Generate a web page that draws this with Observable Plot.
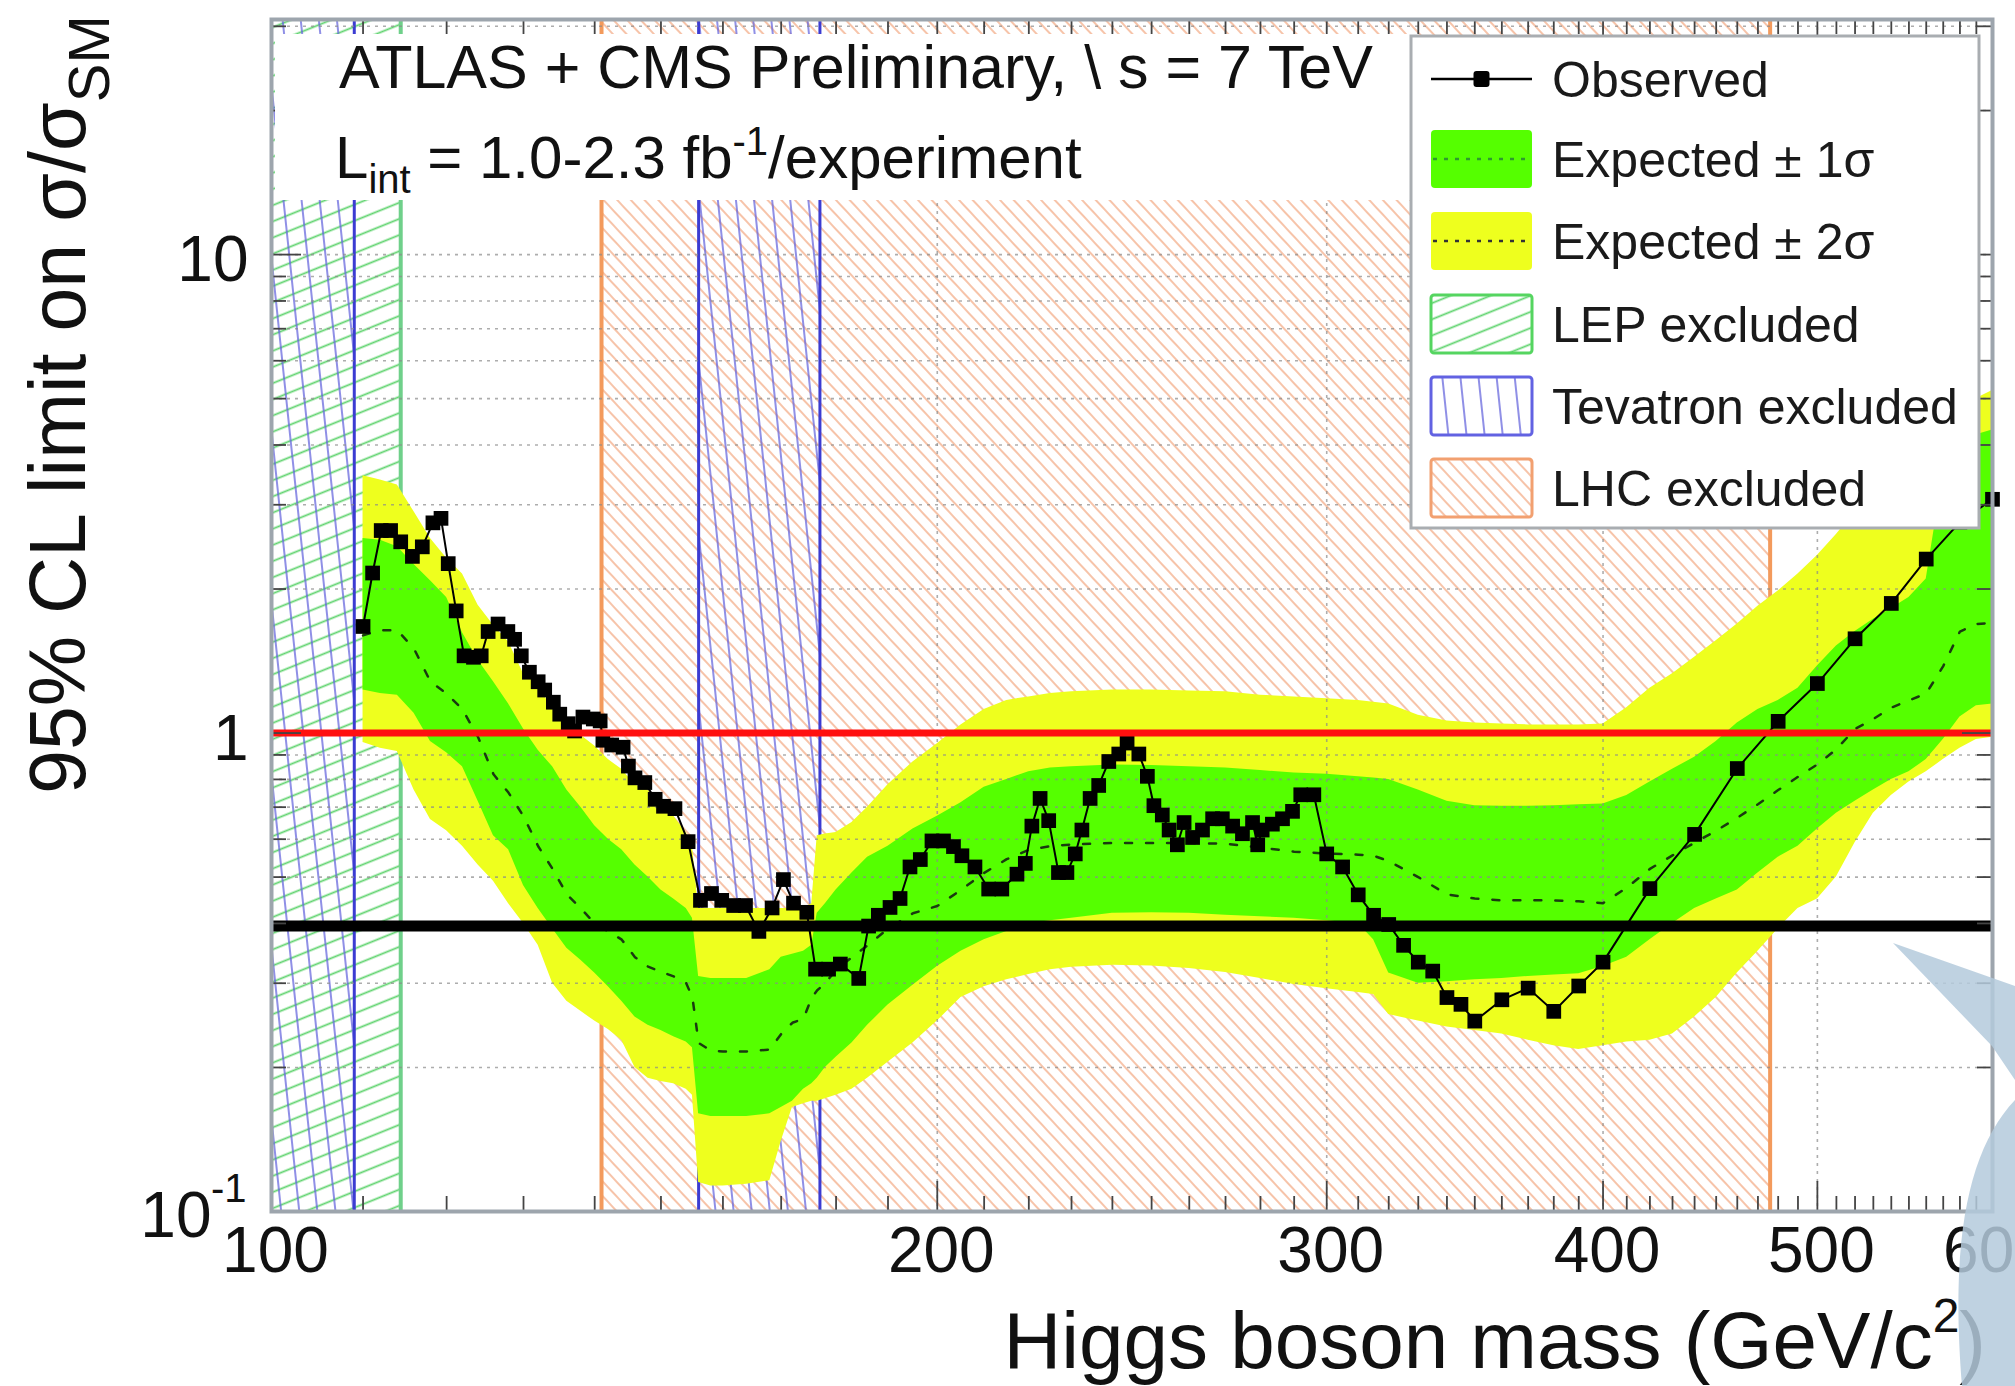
<!DOCTYPE html>
<html>
<head>
<meta charset="utf-8">
<script src="https://cdn.jsdelivr.net/npm/d3@7"></script>
<script src="https://cdn.jsdelivr.net/npm/@observablehq/plot@0.6"></script>
<style>
html, body { margin: 0; padding: 0; background: #fff; overflow: hidden; }
#chart { position: relative; width: 2015px; height: 1386px; overflow: hidden; }
</style>
</head>
<body>
<svg width="0" height="0" style="position:absolute">
  <defs>
    <pattern id="hatchLHC" patternUnits="userSpaceOnUse" width="10" height="10" patternTransform="rotate(-43)">
      <line x1="5" y1="-1" x2="5" y2="11" stroke="#f2a780" stroke-width="1.6" stroke-opacity="0.85"/>
    </pattern>
    <pattern id="hatchTev" patternUnits="userSpaceOnUse" width="18" height="18" patternTransform="rotate(-6)">
      <line x1="9" y1="-1" x2="9" y2="19" stroke="#6464dc" stroke-width="1.8" stroke-opacity="0.8"/>
    </pattern>
    <pattern id="hatchLEP" patternUnits="userSpaceOnUse" width="15" height="15" patternTransform="rotate(-22)">
      <line x1="-1" y1="7.5" x2="16" y2="7.5" stroke="#4fcf5f" stroke-width="1.8" stroke-opacity="0.9"/>
    </pattern>
  </defs>
</svg>
<div id="chart"></div>
<script>
// ---------------- data ----------------
const obsMass = [110.0, 111.1, 112.1, 113.2, 114.4, 115.8, 117.0, 118.3, 119.3, 120.2,
  121.2, 122.2, 123.4, 124.4, 125.3, 126.6, 127.9, 128.8, 129.7, 130.8,
  132.0, 132.9, 134.1, 135.0, 136.2, 137.1, 138.3, 139.8, 140.8, 141.2,
  142.5, 144.2, 145.0, 146.0, 147.5, 149.1, 150.4, 152.2, 154.3, 156.3,
  158.1, 159.8, 161.8, 163.8, 166.1, 168.4, 170.4, 172.2, 174.6, 176.2,
  178.6, 180.8, 184.3, 186.2, 188.1, 190.4, 192.4, 194.4, 196.5, 198.9,
  201.3, 203.4, 205.2, 208.0, 211.0, 213.9, 217.3, 219.2, 220.7, 222.6,
  224.6, 226.9, 228.9, 230.9, 232.5, 234.5, 236.6, 239.1, 241.6, 243.7,
  246.7, 248.9, 250.6, 252.8, 254.6, 256.8, 258.6, 260.9, 263.6, 266.4,
  269.1, 272.0, 274.8, 277.7, 279.2, 280.5, 283.5, 286.5, 289.5, 292.0,
  296.0, 300, 305, 310, 315, 320, 325, 330, 335, 340,
  345, 350, 360, 370, 380, 390, 400, 420, 440, 460,
  480, 500, 520, 540, 560, 580, 600];
const obsLimit = [1.67, 2.16, 2.65, 2.65, 2.51, 2.34, 2.45, 2.75, 2.81, 2.26,
  1.80, 1.45, 1.44, 1.45, 1.63, 1.69, 1.63, 1.57, 1.45, 1.34,
  1.28, 1.23, 1.16, 1.095, 1.046, 1.01, 1.08, 1.07, 1.06, 0.966,
  0.944, 0.934, 0.853, 0.806, 0.788, 0.727, 0.703, 0.695, 0.593, 0.447,
  0.462, 0.447, 0.436, 0.436, 0.385, 0.431, 0.494, 0.441, 0.422, 0.321,
  0.321, 0.329, 0.307, 0.395, 0.416, 0.432, 0.451, 0.525, 0.544, 0.595,
  0.595, 0.579, 0.554, 0.525, 0.472, 0.472, 0.507, 0.534, 0.639, 0.730,
  0.656, 0.511, 0.511, 0.559, 0.627, 0.730, 0.777, 0.872, 0.904, 0.953,
  0.904, 0.812, 0.705, 0.674, 0.627, 0.584, 0.650, 0.605, 0.627, 0.662,
  0.662, 0.639, 0.616, 0.650, 0.584, 0.627, 0.645, 0.662, 0.686, 0.743,
  0.743, 0.559, 0.525, 0.459, 0.416, 0.398, 0.360, 0.332, 0.318, 0.280,
  0.271, 0.250, 0.277, 0.293, 0.262, 0.296, 0.332, 0.473, 0.614, 0.843,
  1.058, 1.269, 1.574, 1.866, 2.31, 2.76, 3.08];

const bandMass = [110,112,114,116,118,120,122,124,126,128,130,132,134,136,138,140,142,144,146,148,150,152,154,
  155,156,158,160,164,168,170,172,174,175.5,176.5,178,180,183,186,190,195,
  200,205,210,215,220,225,230,
  240,250,260,270,280,290,300,
  310,315,320,
  330,340,350,360,370,380,390,400,410,420,430,440,450,460,470,480,490,500,510,520,530,540,550,560,570,580,590,600];
const expMedian = [1.60,1.64,1.64,1.50,1.28,1.21,1.12,0.98,0.82,0.75,0.67,0.58,0.52,0.46,0.43,0.40,0.385,0.37,0.34,0.325,0.317,0.31,0.30,
  0.28,0.225,0.217,0.216,0.216,0.218,0.235,0.248,0.253,0.28,0.29,0.30,0.32,0.34,0.36,0.39,0.42,
  0.435,0.47,0.51,0.545,0.57,0.58,0.585,
  0.589,0.589,0.589,0.587,0.576,0.565,0.56,
  0.557,0.554,0.54,
  0.50,0.46,0.451,0.447,0.447,0.447,0.445,0.441,0.475,0.52,0.555,0.59,0.625,0.665,0.71,0.76,0.81,0.86,0.925,1.02,1.07,1.13,1.17,1.21,1.38,1.63,1.69,1.70];
const band1Hi = [2.55,2.53,2.45,2.25,2.08,1.92,1.62,1.42,1.28,1.15,1.02,0.92,0.85,0.76,0.70,0.64,0.60,0.57,0.53,0.50,0.47,0.45,0.43,
  0.41,0.31,0.307,0.307,0.307,0.32,0.34,0.345,0.35,0.36,0.42,0.44,0.47,0.51,0.55,0.58,0.63,
  0.67,0.715,0.77,0.80,0.83,0.845,0.85,
  0.857,0.855,0.85,0.845,0.835,0.825,0.82,
  0.81,0.805,0.80,
  0.76,0.72,0.705,0.703,0.703,0.705,0.708,0.711,0.74,0.79,0.84,0.89,0.96,1.05,1.12,1.17,1.24,1.38,1.52,1.63,1.73,1.82,1.92,2.1,3.5,4.0,4.2,4.3];
const band1Lo = [1.23,1.21,1.20,1.10,0.96,0.91,0.85,0.72,0.61,0.57,0.48,0.43,0.39,0.355,0.335,0.315,0.295,0.275,0.255,0.245,0.239,0.232,0.226,
  0.22,0.16,0.158,0.158,0.158,0.16,0.165,0.17,0.18,0.185,0.19,0.20,0.21,0.225,0.245,0.27,0.297,
  0.325,0.35,0.37,0.385,0.40,0.405,0.41,
  0.42,0.421,0.42,0.416,0.413,0.41,0.405,
  0.40,0.37,0.315,
  0.30,0.302,0.305,0.307,0.31,0.312,0.314,0.325,0.34,0.37,0.40,0.43,0.45,0.47,0.51,0.55,0.58,0.63,0.68,0.72,0.76,0.80,0.83,0.88,0.97,1.08,1.14,1.15];
const band2Hi = [3.45,3.38,3.30,2.90,2.55,2.32,2.15,1.85,1.68,1.55,1.33,1.26,1.12,1.07,0.99,0.94,0.88,0.84,0.78,0.76,0.70,0.67,0.62,
  0.58,0.43,0.43,0.43,0.43,0.43,0.43,0.43,0.43,0.44,0.61,0.615,0.62,0.65,0.70,0.78,0.87,
  0.95,1.04,1.12,1.17,1.19,1.21,1.22,
  1.23,1.23,1.225,1.22,1.20,1.19,1.18,
  1.17,1.16,1.15,
  1.09,1.06,1.05,1.045,1.04,1.04,1.04,1.045,1.13,1.24,1.33,1.44,1.56,1.69,1.84,1.98,2.15,2.35,2.6,2.9,3.2,3.5,3.8,4.1,4.5,4.8,5.0,5.2];
const band2Lo = [0.955,0.93,0.915,0.76,0.66,0.625,0.58,0.53,0.49,0.44,0.40,0.36,0.30,0.275,0.262,0.25,0.24,0.228,0.20,0.19,0.187,0.185,0.18,
  0.175,0.115,0.113,0.113,0.114,0.116,0.14,0.165,0.168,0.17,0.17,0.172,0.175,0.18,0.19,0.205,0.225,
  0.25,0.28,0.295,0.305,0.313,0.32,0.324,
  0.327,0.326,0.322,0.316,0.307,0.298,0.292,
  0.287,0.284,0.258,
  0.25,0.243,0.239,0.235,0.228,0.222,0.218,0.222,0.226,0.228,0.235,0.255,0.28,0.315,0.35,0.39,0.43,0.45,0.50,0.59,0.68,0.74,0.79,0.83,0.88,0.93,0.97,0.98];

const lepExcluded = [[100, 114.4]];
const tevatronExcluded = [[100, 109], [156, 177]];
const lhcExcluded = [[141, 476]];
const smReference = [1];
const blackReference = [0.395];

const xTickLabels = [100, 200, 300, 400, 500, 600];
const xMajorTicks = [200, 300, 400, 500];
const xMinorTicks = d3.range(110, 600, 10).filter(v => v % 100 !== 0);
const xGrid = [200, 300, 400, 500];
const yTickLabels = [{v: 1, t: "1"}, {v: 10, t: "10"}];
const yLowLabel = [{v: 0.1, base: "10", sup: "-1"}];
const yMajorTicks = [1, 10];
const yMinorTicks = [0.2,0.3,0.4,0.5,0.6,0.7,0.8,0.9,2,3,4,5,6,7,8,9,20,30];
const yGrid = [0.2,0.3,0.4,0.5,0.6,0.7,0.8,0.9,2,3,4,5,6,7,8,9,10,20,30];

const legendItems = [
  {label: "Observed", kind: "obs"},
  {label: "Expected \u00B1 1\u03C3", kind: "band1"},
  {label: "Expected \u00B1 2\u03C3", kind: "band2"},
  {label: "LEP excluded", kind: "lep"},
  {label: "Tevatron excluded", kind: "tev"},
  {label: "LHC excluded", kind: "lhc"}
];

// ---------------- layout ----------------
const W = 2015, H = 1386;
const mT = 19, mR = 23, mB = 175, mL = 271;
const plotW = W - mL - mR, plotH = H - mT - mB;
const massDomain = [100, 600];
const limitDomain = [0.1, 31];
const GREEN = "#55ff00", YELLOW = "#eeff1e";
const FONT = "'Liberation Sans', Arial, Helvetica, sans-serif";

const bands = bandMass.map((m, i) => ({m, med: expMedian[i], lo1: band1Lo[i], hi1: band1Hi[i], lo2: band2Lo[i], hi2: band2Hi[i]}));
const observed = obsMass.map((m, i) => ({m, v: obsLimit[i]}));
const yBot = () => limitDomain[0], yTop = () => limitDomain[1];

const chart = Plot.plot({
  width: W, height: H,
  marginTop: mT, marginRight: mR, marginBottom: mB, marginLeft: mL,
  x: {type: "log", domain: massDomain, axis: null},
  y: {type: "log", domain: limitDomain, axis: null},
  style: {background: "#fff", fontFamily: FONT, color: "#111", overflow: "visible"},
  marks: [
    Plot.rect(lhcExcluded, {x1: d => d[0], x2: d => d[1], y1: yBot, y2: yTop, fill: "url(#hatchLHC)"}),
    Plot.rect(lepExcluded, {x1: d => d[0], x2: d => d[1], y1: yBot, y2: yTop, fill: "url(#hatchLEP)"}),
    Plot.rect(tevatronExcluded, {x1: d => d[0], x2: d => d[1], y1: yBot, y2: yTop, fill: "url(#hatchTev)"}),
    Plot.ruleX(lhcExcluded.flat(), {stroke: "#f39a5c", strokeWidth: 4}),
    Plot.ruleX(lepExcluded.map(d => d[1]), {stroke: "#6fd08a", strokeWidth: 4}),
    Plot.ruleX(tevatronExcluded.flat(), {stroke: "#3c3cd2", strokeWidth: 3}),
    Plot.areaY(bands, {x: "m", y1: "lo2", y2: "hi2", fill: YELLOW}),
    Plot.areaY(bands, {x: "m", y1: "lo1", y2: "hi1", fill: GREEN}),
    Plot.ruleY(yGrid, {stroke: "#8a8a8a", strokeWidth: 1.6, strokeDasharray: "3,5", strokeOpacity: 0.7}),
    Plot.ruleX(xGrid, {stroke: "#8a8a8a", strokeWidth: 1.6, strokeDasharray: "3,5", strokeOpacity: 0.7}),
    Plot.line(bands, {x: "m", y: "med", stroke: "#1a3a10", strokeWidth: 2.5, strokeDasharray: "7,14"}),
    Plot.line(observed, {x: "m", y: "v", stroke: "#000", strokeWidth: 2}),
    Plot.dot(observed, {x: "m", y: "v", symbol: "square", r: 8.3, fill: "#000", stroke: "none"}),
    Plot.ruleY(smReference, {stroke: "#ff1010", strokeWidth: 7}),
    Plot.ruleY(blackReference, {stroke: "#000", strokeWidth: 11}),
    // ticks (inside the frame)
    Plot.ruleX(xMinorTicks, {insetTop: plotH - 15, stroke: "#444", strokeWidth: 1.8}),
    Plot.ruleX(xMajorTicks, {insetTop: plotH - 30, stroke: "#444", strokeWidth: 1.8}),
    Plot.ruleX(xMinorTicks, {insetBottom: plotH - 15, stroke: "#444", strokeWidth: 1.8}),
    Plot.ruleX(xMajorTicks, {insetBottom: plotH - 30, stroke: "#444", strokeWidth: 1.8}),
    Plot.ruleY(yMinorTicks, {insetRight: plotW - 15, stroke: "#444", strokeWidth: 1.8}),
    Plot.ruleY(yMajorTicks, {insetRight: plotW - 30, stroke: "#444", strokeWidth: 1.8}),
    Plot.ruleY(yMinorTicks, {insetLeft: plotW - 15, stroke: "#444", strokeWidth: 1.8}),
    Plot.ruleY(yMajorTicks, {insetLeft: plotW - 30, stroke: "#444", strokeWidth: 1.8}),
    Plot.frame({stroke: "#9da5ad", strokeWidth: 4}),
    // tick labels
    Plot.text(xTickLabels, {x: d => d, text: d => String(d), frameAnchor: "bottom", dx: 4, dy: 60, fontSize: 64, fill: "#111"}),
    Plot.text(yTickLabels, {y: "v", text: "t", frameAnchor: "left", dx: -23, dy: 6, textAnchor: "end", fontSize: 64, fill: "#111"}),
    Plot.text(yLowLabel, {y: "v", text: "base", frameAnchor: "left", dx: -60, dy: 5, textAnchor: "end", fontSize: 64, fill: "#111"}),
    Plot.text(yLowLabel, {y: "v", text: "sup", frameAnchor: "left", dx: -25, dy: -22, textAnchor: "end", fontSize: 40, fill: "#111"})
  ]
});
document.getElementById("chart").appendChild(chart);

// ---------------- overlays: annotation panel, legend, titles ----------------
const svg = d3.select(chart);

// white annotation panel
svg.append("rect").attr("x", 275).attr("y", 34).attr("width", 1136).attr("height", 166).attr("fill", "#fff");
svg.append("text").attr("x", 339).attr("y", 88).attr("text-anchor", "start")
  .attr("font-size", 61).attr("font-family", FONT).attr("fill", "#111")
  .text("ATLAS + CMS Preliminary, \\ s = 7 TeV");
const t2 = svg.append("text").attr("x", 335).attr("y", 178).attr("text-anchor", "start")
  .attr("font-size", 60).attr("font-family", FONT).attr("fill", "#111");
t2.append("tspan").text("L");
t2.append("tspan").attr("font-size", 40).attr("dy", 15).text("int");
t2.append("tspan").attr("dy", -15).text(" = 1.0-2.3 fb");
t2.append("tspan").attr("font-size", 40).attr("dy", -23).text("-1");
t2.append("tspan").attr("dy", 23).text("/experiment");

// legend
const LX = 1411, LY = 36, LWd = 568, LHt = 492;
const lg = svg.append("g").attr("font-family", FONT).attr("text-anchor", "start");
lg.append("rect").attr("x", LX).attr("y", LY).attr("width", LWd).attr("height", LHt)
  .attr("fill", "#fff").attr("stroke", "#a9adb1").attr("stroke-width", 3);
const rowY = [79, 159, 241, 324, 406, 488];
const sx0 = 1431, sw = 101, sh = 58;
legendItems.forEach((item, i) => {
  const cy = rowY[i];
  const g = lg.append("g");
  if (item.kind === "obs") {
    g.append("line").attr("x1", sx0).attr("x2", sx0 + sw).attr("y1", cy).attr("y2", cy).attr("stroke", "#000").attr("stroke-width", 2.5);
    g.append("rect").attr("x", sx0 + sw / 2 - 8).attr("y", cy - 8).attr("width", 16).attr("height", 16).attr("rx", 3).attr("fill", "#000");
  } else if (item.kind === "band1" || item.kind === "band2") {
    g.append("rect").attr("x", sx0).attr("y", cy - sh / 2).attr("width", sw).attr("height", sh).attr("rx", 4)
      .attr("fill", item.kind === "band1" ? GREEN : YELLOW);
    g.append("line").attr("x1", sx0 + 2).attr("x2", sx0 + sw - 2).attr("y1", cy).attr("y2", cy)
      .attr("stroke", item.kind === "band1" ? "#2e9a2e" : "#333").attr("stroke-width", 2.5).attr("stroke-dasharray", "4,7");
  } else {
    const fills = {lep: "url(#hatchLEP)", tev: "url(#hatchTev)", lhc: "url(#hatchLHC)"};
    const strokes = {lep: "#55d560", tev: "#6262e2", lhc: "#f2a070"};
    g.append("rect").attr("x", sx0).attr("y", cy - sh / 2).attr("width", sw).attr("height", sh).attr("rx", 3)
      .attr("fill", fills[item.kind]).attr("stroke", strokes[item.kind]).attr("stroke-width", 3);
  }
  lg.append("text").attr("x", 1552).attr("y", cy + 18).attr("text-anchor", "start")
    .attr("font-size", 50).attr("fill", "#1a1a1a").text(item.label);
});

// x title
const xt = svg.append("text").attr("x", 1986).attr("y", 1368).attr("text-anchor", "end")
  .attr("font-size", 80).attr("font-family", FONT).attr("fill", "#111");
xt.append("tspan").text("Higgs boson mass (GeV/c");
xt.append("tspan").attr("font-size", 48).attr("dy", -36).text("2");
xt.append("tspan").attr("dy", 36).text(")");

// y title
const yt = svg.append("text").attr("transform", "translate(85,794) rotate(-90)").attr("text-anchor", "start")
  .attr("font-size", 79).attr("font-family", FONT).attr("fill", "#111");
yt.append("tspan").text("95% CL limit on \u03C3/\u03C3");
yt.append("tspan").attr("font-size", 58).attr("dy", 24).text("SM");

// light decorative swoosh in the lower-right corner
svg.append("path")
  .attr("d", "M1893,943 L2015,986 L2015,1080 L1992,1046 Z M2015,1100 C1968,1150 1950,1240 1962,1386 L2015,1386 Z")
  .attr("fill", "#b4cadc").attr("fill-opacity", 0.85);
</script>
</body>
</html>
